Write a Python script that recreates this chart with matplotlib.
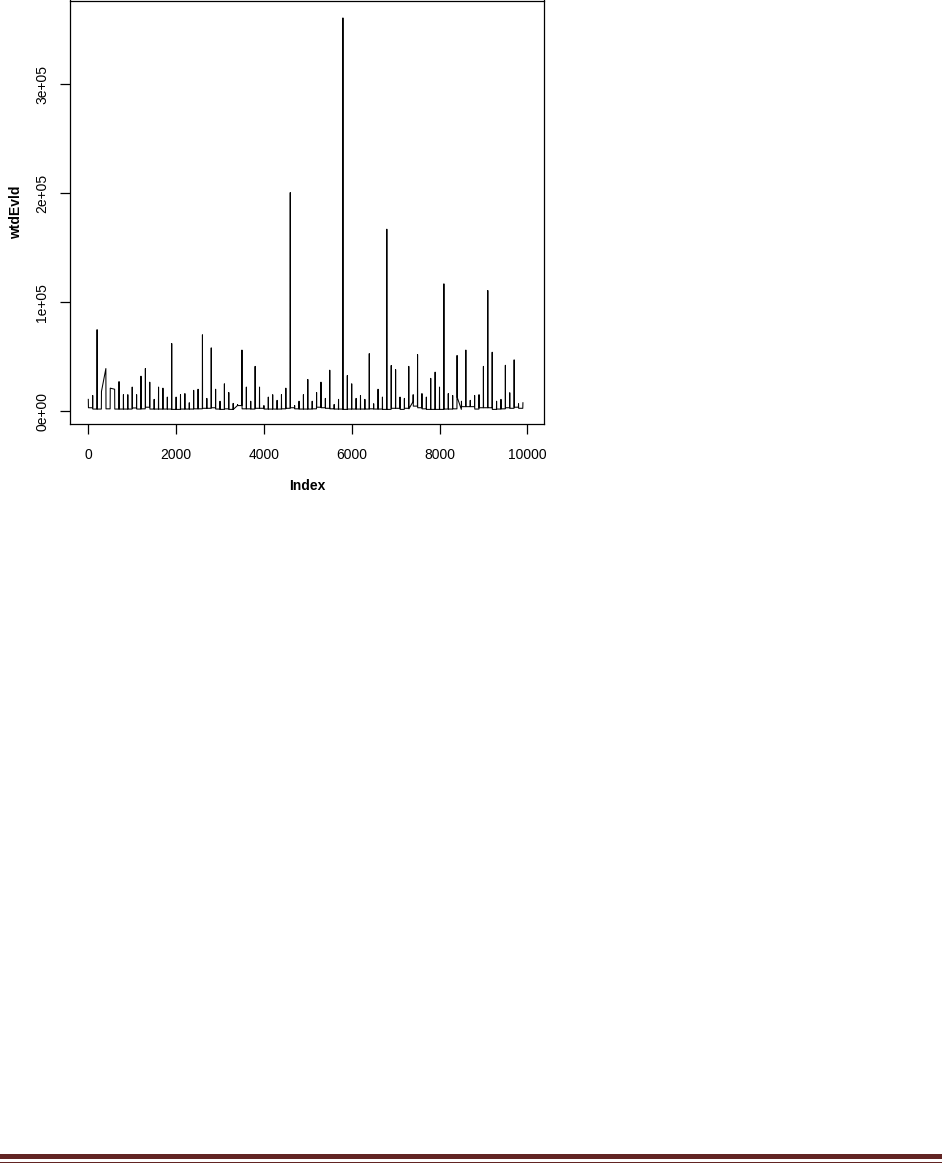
import numpy as np
import matplotlib
matplotlib.use("Agg")
import matplotlib.pyplot as plt
from matplotlib.patches import Rectangle

# ---- data (values in units) ----
spike_index = list(range(0, 10000, 100))
spike_value = [
    10.7, 14.3, 74.7, 18.0, 39.0, 21.0, 20.0, 27.0, 15.0, 15.0,
    22.0, 15.0, 32.0, 39.0, 26.5, 10.7, 22.0, 21.0, 12.8, 62.0,
    12.8, 15.0, 16.0, 7.6, 19.0, 20.0, 70.0, 11.6, 58.0, 20.0,
    9.0, 25.0, 17.0, 7.0, 6.0, 56.0, 22.0, 9.0, 41.0, 22.0,
    5.0, 12.8, 15.0, 9.8, 15.0, 21.0, 200.6, 5.0, 9.0, 15.0,
    29.0, 9.0, 17.0, 26.5, 11.6, 37.5, 6.0, 10.7, 361.0, 32.6,
    25.0, 11.6, 14.3, 10.7, 52.7, 6.7, 20.0, 12.8, 167.0, 41.8,
    38.0, 12.8, 11.6, 41.0, 15.0, 51.8, 16.0, 12.8, 30.0, 35.7,
    22.0, 116.8, 16.0, 14.3, 51.0, 9.0, 56.0, 9.8, 14.3, 15.0,
    41.0, 110.7, 54.0, 9.0, 10.7, 42.0, 16.8, 47.0, 6.7, 7.6,
]
nan = float("nan")
# level just after each spike
base_after = [
    3.0, 1.8, 1.8, nan, 2.0, nan, 1.8, 1.8, 1.8, 1.8,
    2.8, 1.8, 2.0, 3.5, 1.8, 1.8, 1.8, 1.8, 1.8, 1.5,
    1.5, 1.8, 1.8, 1.8, 2.0, 2.0, 2.5, 2.5, 3.0, 1.8,
    1.5, 2.0, 1.5, 1.5, 5.0, 2.0, 2.0, 1.8, 2.5, 2.5,
    1.8, 1.8, 1.8, 1.8, 2.0, 2.5, 3.0, 2.0, 1.8, 1.8,
    1.8, 2.0, 3.5, 3.0, 2.5, 2.0, 1.8, 1.8, 1.5, 1.8,
    1.8, 1.8, 1.8, 1.8, 2.0, 1.8, 1.8, 1.5, 1.5, 2.5,
    2.5, 1.5, 2.5, 2.0, 4.5, 3.0, 2.0, 1.5, 1.5, 1.5,
    1.5, 1.8, 1.8, 2.0, 12.6, 4.0, 4.0, 4.0, 1.8, 3.0,
    3.0, 3.0, 1.5, 1.8, 2.0, 3.0, 2.5, 3.5, 2.5, nan,
]
# level just before the next spike
base_before = [
    3.0, 1.8, 1.8, nan, 2.0, nan, 1.8, 1.8, 1.8, 1.8,
    2.8, 1.8, 2.0, 3.5, 1.8, 1.8, 1.8, 1.8, 1.8, 1.5,
    1.5, 1.8, 1.8, 1.8, 2.0, 2.0, 2.5, 2.5, 3.0, 1.8,
    1.5, 2.0, 1.5, 5.0, 5.0, 2.0, 2.0, 1.8, 2.5, 2.5,
    1.8, 1.8, 1.8, 1.8, 2.0, 2.5, 3.0, 2.0, 1.8, 1.8,
    1.8, 2.0, 3.5, 3.0, 2.5, 2.0, 1.8, 1.8, 1.5, 1.8,
    1.8, 1.8, 1.8, 1.8, 2.0, 1.8, 1.8, 1.5, 1.5, 2.5,
    2.5, 1.5, 2.5, 8.6, 4.5, 3.0, 2.0, 1.5, 1.5, 1.5,
    1.5, 1.8, 1.8, 2.0, 1.5, 4.0, 4.0, 4.0, 1.8, 3.0,
    3.0, 3.0, 1.5, 1.8, 2.0, 3.0, 2.5, 3.5, 2.5, nan,
]
x_ticks = [0, 2000, 4000, 6000, 8000, 10000]
y_ticks = [0, 100000, 200000, 300000]
y_tick_labels = ["0e+00", "1e+05", "2e+05", "3e+05"]

# build the line series from the block data
xs, ys = [], []
for i, s, a, b in zip(spike_index, spike_value, base_after, base_before):
    xs.append(i); ys.append(s * 1000)
    if not np.isnan(a):
        xs.append(i + 3); ys.append(a * 1000)
    if not np.isnan(b):
        xs.append(i + 97); ys.append(b * 1000)

plt.rcParams["font.family"] = ["Liberation Sans", "DejaVu Sans"]
W, H = 942, 1163
fig = plt.figure(figsize=(W / 100, H / 100), dpi=100)
left, right, top, bottom = 70, 544.3, 0.5, 424.3
ax = fig.add_axes([left / W, 1 - bottom / H, (right - left) / W, (bottom - top) / H])
ax.plot(xs, ys, color="black", lw=0.75)
ax.set_xlim(-417, 10387)
ax.set_ylim(-12200, 377000)
ax.set_xticks(x_ticks)
ax.set_xticklabels([str(t) for t in x_ticks])
ax.set_yticks(y_ticks)
ax.set_yticklabels(y_tick_labels, rotation=90, va="center")
ax.tick_params(axis="both", length=7, width=0.9, labelsize=10, pad=10, color="black")
ax.tick_params(axis="y", pad=8)
for sp in ax.spines.values():
    sp.set_linewidth(0.9)
ax.set_xlabel("Index", fontsize=10, fontweight="bold", labelpad=12)
ax.set_ylabel("wtdEvld", fontsize=10, fontweight="bold", labelpad=9)

# footer lines
col = "#622423"
fig.add_artist(Rectangle((0, 1 - 1159.3 / H), 1, 5.3 / H, transform=fig.transFigure,
                         color=col, lw=0))
fig.add_artist(Rectangle((0, 0), 1, 1.3 / H, transform=fig.transFigure, color=col, lw=0))

fig.savefig("out.png", dpi=100)
